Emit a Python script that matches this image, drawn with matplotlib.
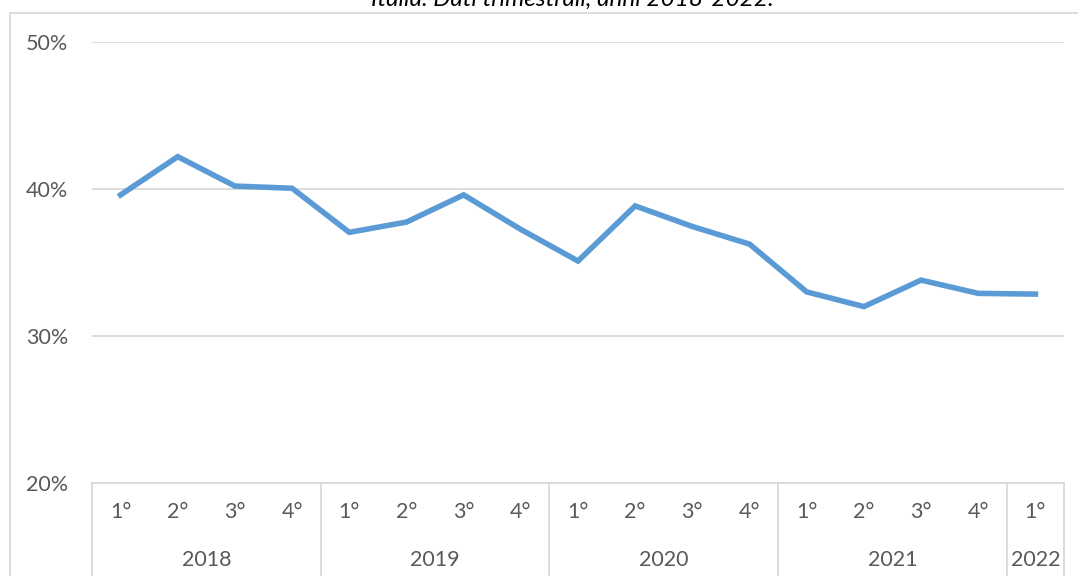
import matplotlib
matplotlib.use("Agg")
import matplotlib.pyplot as plt
from matplotlib.patches import Rectangle
from matplotlib.lines import Line2D

quarters = ["1°", "2°", "3°", "4°"] * 4 + ["1°"]
years = ["2018", "2019", "2020", "2021", "2022"]
year_counts = [4, 4, 4, 4, 1]
values = [39.6, 42.2, 40.2, 40.05, 37.05, 37.75, 39.6, 37.25,
          35.1, 38.85, 37.45, 36.25, 33.0, 32.0, 33.8, 32.9, 32.85]
yticks = [20, 30, 40, 50]
title = "Italia. Dati trimestrali, anni 2018-2022."

W, H = 1078, 576
fig = plt.figure(figsize=(W / 100, H / 100), dpi=100)
plt.rcParams['font.family'] = ['Lato', 'DejaVu Sans']

x0, x1 = 92, 1064
y_top, y_bot = 42, 483
ax = fig.add_axes([x0 / W, 1 - y_bot / H, (x1 - x0) / W, (y_bot - y_top) / H])

grid_c = "#D9D9D9"
text_c = "#595959"
fs = 15.5
n = len(values)
xs = list(range(n))
ax.plot(xs, values, color="#5B9BD5", lw=4.0, solid_joinstyle="miter", zorder=3)
ax.set_xlim(-0.5, n - 0.5)
ax.set_ylim(20, 50)
ax.set_yticks(yticks)
ax.set_yticklabels([f"{v}%" for v in yticks], color=text_c, fontsize=fs)
ax.tick_params(axis="y", length=0, pad=17)
ax.set_xticks([])
for s in ["top", "right", "left"]:
    ax.spines[s].set_visible(False)
ax.spines["bottom"].set_color(grid_c)
ax.spines["bottom"].set_linewidth(1.3)
for v in yticks[1:]:
    ax.axhline(v, color=grid_c, lw=1.3, zorder=1)

# multi-level category axis
trans = ax.get_xaxis_transform()
for i, q in enumerate(quarters):
    ax.text(i, -29 / (y_bot - y_top), q, transform=trans, ha="center", va="center",
            color=text_c, fontsize=fs, clip_on=False)
pos = 0
bounds = [0]
for yr, c in zip(years, year_counts):
    ax.text(pos + (c - 1) / 2, -77 / (y_bot - y_top), yr, transform=trans,
            ha="center", va="center", color=text_c, fontsize=fs, clip_on=False)
    pos += c
    bounds.append(pos)
for b in bounds:
    ax.add_line(Line2D([b - 0.5, b - 0.5], [0, -(H - y_bot + 5) / (y_bot - y_top)],
                       transform=trans, color=grid_c, lw=1.3, clip_on=False))

# chart border
fig.patches.append(Rectangle((10 / W, -0.05), (W - 10 - 1) / W + 0.05, 1 - 13 / H + 0.05,
                             transform=fig.transFigure, fill=False,
                             edgecolor=grid_c, lw=1.3))

fig.text(572 / W, 1 + 1 / H, title, ha="center", va="center", style="italic",
         color="black", fontsize=17.5)

fig.savefig("out.png", dpi=100)
